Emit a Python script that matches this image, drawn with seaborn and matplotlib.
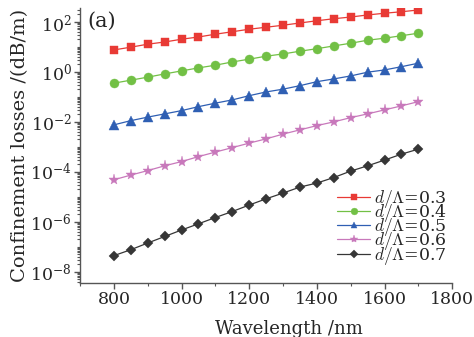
import numpy as np
import pandas as pd
import matplotlib
matplotlib.use("Agg")
import matplotlib.pyplot as plt
import matplotlib.ticker as mticker
import seaborn as sns

wavelength = [800, 850, 900, 950, 1000, 1050, 1100, 1150, 1200, 1250,
              1300, 1350, 1400, 1450, 1500, 1550, 1600, 1650, 1700]
loss_03 = [7.6, 9.8, 12.9, 15.8, 20.4, 25.1, 32.4, 40.7, 51.3, 61.7,
           74.1, 91.2, 112, 135, 158, 191, 224, 257, 302]
loss_04 = [0.355, 0.468, 0.617, 0.832, 1.10, 1.45, 1.86, 2.51, 3.24, 4.27,
           5.25, 6.76, 8.51, 11.0, 14.1, 18.6, 22.4, 28.2, 35.5]
loss_05 = [0.0076, 0.0112, 0.0155, 0.0209, 0.0282, 0.0407, 0.0562, 0.0759, 0.112, 0.158,
           0.204, 0.282, 0.407, 0.525, 0.692, 0.977, 1.20, 1.62, 2.24]
loss_06 = [4.8e-5, 7.4e-5, 1.12e-4, 1.74e-4, 2.57e-4, 4.07e-4, 6.17e-4, 9.33e-4, 1.41e-3, 2.09e-3,
           3.24e-3, 4.79e-3, 7.08e-3, 1.0e-2, 1.48e-2, 2.09e-2, 3.02e-2, 4.37e-2, 6.46e-2]
loss_07 = [4.4e-8, 7.6e-8, 1.41e-7, 2.57e-7, 4.68e-7, 8.3e-7, 1.48e-6, 2.57e-6, 4.68e-6, 8.3e-6,
           1.41e-5, 2.45e-5, 3.55e-5, 5.9e-5, 1.07e-4, 1.74e-4, 2.95e-4, 5.1e-4, 8.1e-4]
series_labels = [r"$d/\Lambda$=0.3", r"$d/\Lambda$=0.4", r"$d/\Lambda$=0.5",
                 r"$d/\Lambda$=0.6", r"$d/\Lambda$=0.7"]
y_ticks = [1e-8, 1e-6, 1e-4, 1e-2, 1e0, 1e2]
x_ticks = [800, 1000, 1200, 1400, 1600, 1800]

sns.set_style("ticks")
plt.rcParams["font.family"] = ["DejaVu Serif"]
plt.rcParams["mathtext.fontset"] = "cm"

colors = ["#e83a35", "#72c045", "#2f5fb3", "#c878bb", "#363636"]
markers = ["s", "o", "^", "*", "D"]
msizes = [5.5, 6.5, 6.5, 8, 5]

fig = plt.figure(figsize=(4.74, 3.37), dpi=100)
ax = fig.add_axes([0.169, 0.160, 0.785, 0.816])

all_series = [loss_03, loss_04, loss_05, loss_06, loss_07]
for vals, lab, c, m, ms in zip(all_series, series_labels, colors, markers, msizes):
    df = pd.DataFrame({"wl": wavelength, "loss": vals})
    sns.lineplot(data=df, x="wl", y="loss", ax=ax, color=c, marker=m,
                 markersize=ms, markeredgewidth=0.3, markeredgecolor=c,
                 linewidth=0.9, label=lab, estimator=None)

ax.set_yscale("log")
ax.set_xlim(700, 1800)
ax.set_ylim(3.5e-9, 360)
ax.set_xticks(x_ticks)
ax.xaxis.set_minor_locator(mticker.MultipleLocator(100))
ax.set_yticks(y_ticks)
ax.yaxis.set_minor_locator(mticker.LogLocator(base=10, subs=np.arange(1, 10), numticks=100))
ax.yaxis.set_minor_formatter(mticker.NullFormatter())

for s in ["top", "right"]:
    ax.spines[s].set_visible(False)
for s in ["left", "bottom"]:
    ax.spines[s].set_color("#555555")
    ax.spines[s].set_linewidth(1.0)
ax.tick_params(axis="both", which="major", direction="out", length=4, width=1.0,
               color="#555555", labelsize=12.5, pad=2)
ax.tick_params(axis="both", which="minor", direction="out", length=2.5, width=0.8,
               color="#555555")

ax.set_xlabel("Wavelength /nm", fontsize=13)
ax.xaxis.set_label_coords(0.56, -0.135)
ax.set_ylabel("Confinement losses /(dB/m)", fontsize=14, labelpad=1)
ax.text(0.02, 0.985, "(a)", transform=ax.transAxes, fontsize=15, va="top", ha="left")

leg = ax.legend(loc="lower right", frameon=False, fontsize=12.5, handlelength=1.9,
                handletextpad=0.2, labelspacing=-0.45, borderaxespad=0.0, borderpad=0.0,
                markerscale=0.75, bbox_to_anchor=(0.985, 0.06))

fig.savefig("out.png", dpi=100, facecolor="white")
